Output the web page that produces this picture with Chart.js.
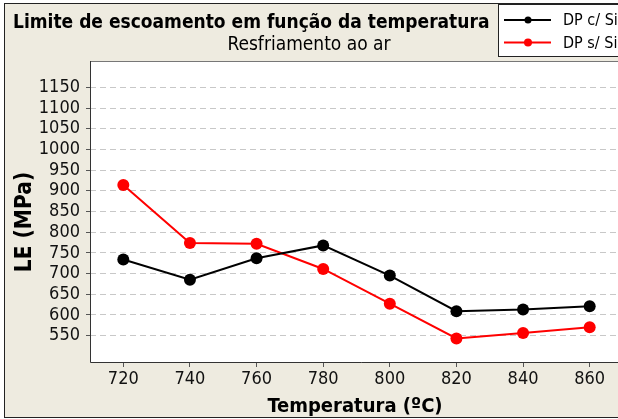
<!DOCTYPE html>
<html lang="pt">

<head>
    <meta charset="UTF-8">
    <title>Limite de escoamento</title>
    <style>
        html, body { margin: 0; padding: 0; background: #fff; overflow: hidden; }
        #wrap { width: 618px; height: 419px; overflow: hidden; }
    </style>
</head>

<body>
    <div id="wrap">
        <canvas id="grafico" width="632" height="419"></canvas>
    </div>
    <script src="https://cdn.jsdelivr.net/npm/chart.js"></script>
    <script>
        // Dados
        const temperaturas = [720, 740, 760, 780, 800, 820, 840, 860]
        const dpComSi = [734, 685, 737, 768, 695, 609, 613, 621]
        const dpSemSi = [914, 774, 772, 711, 627, 543, 556, 570]
        const ticksY = [550, 600, 650, 700, 750, 800, 850, 900, 950, 1000, 1050, 1100, 1150]

        const fonte = "'DejaVu Sans Condensed', 'Noto Sans', sans-serif"
        const bege = '#eeebe0'

        function pontos(valores) {
            return temperaturas.map((t, i) => ({ x: t, y: valores[i] }))
        }

        // fundo, moldura, titulos e legenda
        const moldura = {
            id: 'moldura',
            beforeDraw(chart) {
                const c = chart.ctx
                const a = chart.chartArea
                c.save()
                c.fillStyle = '#fff'
                c.fillRect(0, 0, chart.width, chart.height)
                c.fillStyle = bege
                c.fillRect(4.5, 3.5, chart.width, 414)
                c.strokeStyle = '#222'
                c.lineWidth = 1
                c.strokeRect(4.5, 3.5, chart.width, 414)
                c.fillStyle = '#fff'
                c.fillRect(a.left, a.top, a.right - a.left, a.bottom - a.top)
                c.restore()
            },
            afterDraw(chart) {
                const c = chart.ctx
                const a = chart.chartArea
                c.save()
                // bordas da area do grafico
                c.lineWidth = 1
                c.strokeStyle = '#777'
                c.beginPath()
                c.moveTo(a.left, a.top + 0.5)
                c.lineTo(chart.width, a.top + 0.5)
                c.stroke()
                c.strokeStyle = '#333'
                c.beginPath()
                c.moveTo(a.left + 0.5, a.top)
                c.lineTo(a.left + 0.5, a.bottom + 0.5)
                c.lineTo(chart.width, a.bottom + 0.5)
                c.stroke()

                // titulos
                c.fillStyle = '#000'
                c.textBaseline = 'alphabetic'
                c.textAlign = 'left'
                c.font = 'bold 19px ' + fonte
                c.fillText('Limite de escoamento em função da temperatura', 13, 28)
                c.textAlign = 'center'
                c.font = '19px ' + fonte
                c.fillText('Resfriamento ao ar', 309, 50)

                c.font = 'bold 20px ' + fonte
                c.textBaseline = 'middle'
                c.fillText('Temperatura (ºC)', 355, 407)
                c.save()
                c.translate(25, 222)
                c.rotate(-Math.PI / 2)
                c.font = 'bold 22.5px ' + fonte
                c.fillText('LE (MPa)', 0, 0)
                c.restore()

                // legenda
                c.fillStyle = '#fff'
                c.fillRect(498.5, 4.5, 200, 52)
                c.strokeStyle = '#222'
                c.strokeRect(498.5, 4.5, 200, 52)
                chart.data.datasets.forEach((ds, i) => {
                    const y = 20 + i * 22.5
                    c.strokeStyle = ds.borderColor
                    c.lineWidth = 2
                    c.beginPath()
                    c.moveTo(504, y)
                    c.lineTo(551, y)
                    c.stroke()
                    c.fillStyle = ds.backgroundColor
                    c.beginPath()
                    c.arc(528, y, 3.5 + i * 0.5, 0, Math.PI * 2)
                    c.fill()
                    c.fillStyle = '#000'
                    c.textAlign = 'left'
                    c.font = '16px ' + fonte
                    c.fillText(ds.label, 563, y + 1)
                })
                c.restore()
            }
        }

        const ctx = document.getElementById('grafico').getContext('2d')
        const grafico = new Chart(ctx, {
            type: 'line',
            data: {
                datasets: [{
                    label: 'DP c/ Si',
                    data: pontos(dpComSi),
                    borderColor: '#000000',
                    backgroundColor: '#000000',
                    borderWidth: 2,
                    pointRadius: 6,
                    pointHoverRadius: 6,
                    pointBorderWidth: 0
                }, {
                    label: 'DP s/ Si',
                    data: pontos(dpSemSi),
                    borderColor: '#ff0000',
                    backgroundColor: '#ff0000',
                    borderWidth: 2,
                    pointRadius: 6,
                    pointHoverRadius: 6,
                    pointBorderWidth: 0
                }]
            },
            options: {
                responsive: false,
                animation: false,
                devicePixelRatio: 1,
                layout: {
                    padding: { top: 61, right: 9, left: 0, bottom: 0 }
                },
                plugins: {
                    legend: { display: false },
                    tooltip: { enabled: false }
                },
                scales: {
                    x: {
                        type: 'linear',
                        min: 710,
                        max: 870,
                        afterBuildTicks: (s) => { s.ticks = temperaturas.map(v => ({ value: v })) },
                        afterFit: (s) => { s.height = 57 },
                        border: { display: false },
                        grid: {
                            drawOnChartArea: false,
                            drawTicks: true,
                            tickLength: 5,
                            tickColor: '#555'
                        },
                        ticks: {
                            padding: 2,
                            color: '#111',
                            font: { family: fonte, size: 18 },
                            maxRotation: 0,
                            callback: (v) => String(v)
                        }
                    },
                    y: {
                        min: 486,
                        max: 1214,
                        afterBuildTicks: (s) => { s.ticks = ticksY.map(v => ({ value: v })) },
                        afterFit: (s) => { s.width = 90 },
                        border: { display: false, dash: [6, 4] },
                        grid: {
                            color: '#c8c8c8',
                            lineWidth: 1,
                            tickLength: 4,
                            tickColor: '#555',
                            tickBorderDash: []
                        },
                        ticks: {
                            padding: 6,
                            color: '#111',
                            font: { family: fonte, size: 18 },
                            callback: (v) => String(v)
                        }
                    }
                }
            },
            plugins: [moldura]
        })
    </script>
</body>

</html>
